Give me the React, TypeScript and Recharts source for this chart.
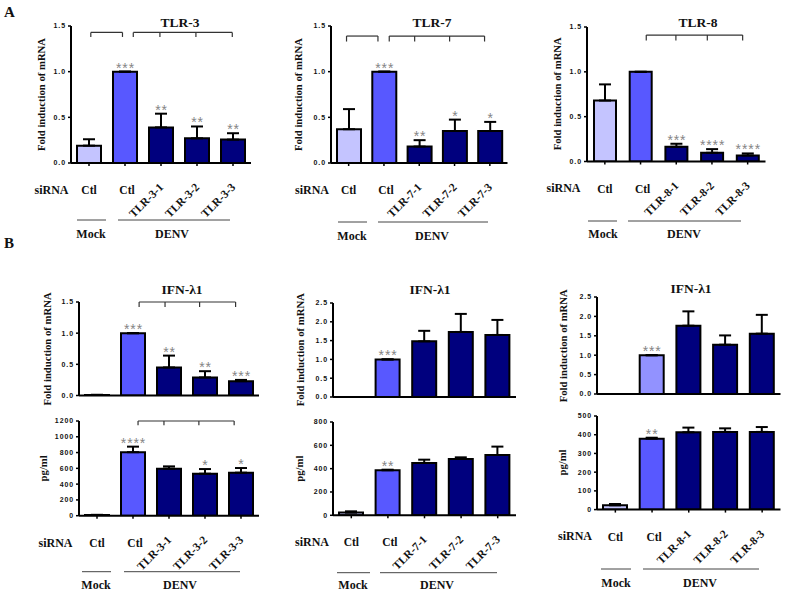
import React from "react";
import { BarChart, Bar, XAxis, YAxis, Cell, ErrorBar, LabelList, ReferenceLine } from "recharts";

const SERIF = '"Liberation Serif", "Times New Roman", serif';
const SANS = '"Liberation Sans", Arial, sans-serif';

const MOCK = "#c4c4ff";
const CTL = "#5858ff";
const CTL_PALE = "#9292ff";
const SI = "#00007e";
const STAR = "#858585";

// x categories
const tlr3Cats = ["Ctl", "Ctl", "TLR-3-1", "TLR-3-2", "TLR-3-3"];
const tlr7Cats = ["Ctl", "Ctl", "TLR-7-1", "TLR-7-2", "TLR-7-3"];
const tlr8Cats = ["Ctl", "Ctl", "TLR-8-1", "TLR-8-2", "TLR-8-3"];

// y ticks
const ticks15 = [0, 0.5, 1, 1.5];
const ticks25 = [0, 0.5, 1, 1.5, 2, 2.5];
const ticks1200 = [0, 200, 400, 600, 800, 1000, 1200];
const ticks800 = [0, 200, 400, 600, 800];
const ticks500 = [0, 100, 200, 300, 400, 500];

// A: TLR mRNA
const tlr3Values = [0.19, 1.0, 0.39, 0.27, 0.256];
const tlr3Errors = [0.07, 0, 0.15, 0.13, 0.07];
const tlr3Stars = ["", "***", "**", "**", "**"];

const tlr7Values = [0.37, 1.0, 0.18, 0.35, 0.35];
const tlr7Errors = [0.22, 0, 0.07, 0.125, 0.1];
const tlr7Stars = ["", "***", "**", "*", "*"];

const tlr8Values = [0.68, 1.0, 0.164, 0.097, 0.067];
const tlr8Errors = [0.18, 0, 0.034, 0.041, 0.023];
const tlr8Stars = ["", "", "***", "****", "****"];

// B: IFN-λ1 mRNA and protein
const ifn3FoldValues = [0.01, 1.0, 0.45, 0.29, 0.23];
const ifn3FoldErrors = [0, 0, 0.19, 0.1, 0.02];
const ifn3FoldStars = ["", "***", "**", "**", "***"];
const ifn3PgValues = [10, 805, 596, 532, 545];
const ifn3PgErrors = [0, 70, 29, 59, 59];
const ifn3PgStars = ["", "****", "", "*", "*"];

const ifn7FoldValues = [0, 1.0, 1.48, 1.73, 1.65];
const ifn7FoldErrors = [0, 0, 0.28, 0.48, 0.4];
const ifn7FoldStars = ["", "***", "", "", ""];
const ifn7PgValues = [23, 386, 449, 483, 517];
const ifn7PgErrors = [11, 5, 28, 14, 72];
const ifn7PgStars = ["", "**", "", "", ""];

const ifn8FoldValues = [0, 1.0, 1.76, 1.27, 1.555];
const ifn8FoldErrors = [0, 0, 0.37, 0.24, 0.485];
const ifn8FoldStars = ["", "***", "", "", ""];
const ifn8PgValues = [23, 379, 413, 415, 415];
const ifn8PgErrors = [7, 5, 25, 19, 26];
const ifn8PgStars = ["", "**", "", "", ""];

type Bracket = { from: number; to: number; mids: number[]; y: number; drop: number };

type ChartCfg = {
  left: number; right: number; top: number; bottom: number;
  domain: [number, number]; ticks: number[]; digits: number;
  values: number[]; errors: number[]; stars: string[];
  cats?: string[]; ctlColor?: string; barSize: number;
  brackets?: Bracket[]; yLabel: string; yLabelX: number;
};

const FOLD = "Fold induction of mRNA";

const charts: ChartCfg[] = [
  {
    left: 71, right: 251, top: 26, bottom: 163, domain: [0, 1.5], ticks: ticks15, digits: 1,
    values: tlr3Values, errors: tlr3Errors, stars: tlr3Stars, cats: tlr3Cats, barSize: 24,
    brackets: [
      { from: 0.05, to: 0.93, mids: [], y: 1.43, drop: 0.05 },
      { from: 1.23, to: 3.98, mids: [1.97, 2.97], y: 1.43, drop: 0.05 },
    ],
    yLabel: FOLD, yLabelX: 41,
  },
  {
    left: 330.5, right: 507, top: 26, bottom: 163, domain: [0, 1.5], ticks: ticks15, digits: 1,
    values: tlr7Values, errors: tlr7Errors, stars: tlr7Stars, cats: tlr7Cats, barSize: 24,
    brackets: [
      { from: -0.06, to: 0.83, mids: [], y: 1.39, drop: 0.06 },
      { from: 1.15, to: 3.85, mids: [1.87, 2.86], y: 1.39, drop: 0.06 },
    ],
    yLabel: FOLD, yLabelX: 298,
  },
  {
    left: 586.5, right: 765, top: 26.5, bottom: 161, domain: [0, 1.5], ticks: ticks15, digits: 1,
    values: tlr8Values, errors: tlr8Errors, stars: tlr8Stars, cats: tlr8Cats, barSize: 22,
    brackets: [{ from: 1.16, to: 3.86, mids: [1.99, 2.87], y: 1.41, drop: 0.06 }],
    yLabel: FOLD, yLabelX: 557,
  },
  {
    left: 79.3, right: 259.3, top: 302.2, bottom: 395.7, domain: [0, 1.5], ticks: ticks15, digits: 1,
    values: ifn3FoldValues, errors: ifn3FoldErrors, stars: ifn3FoldStars, barSize: 24,
    brackets: [{ from: 1.17, to: 3.85, mids: [1.89, 2.85], y: 1.5, drop: 0.08 }],
    yLabel: FOLD, yLabelX: 47,
  },
  {
    left: 79.3, right: 259.3, top: 421, bottom: 515.7, domain: [0, 1200], ticks: ticks1200, digits: 0,
    values: ifn3PgValues, errors: ifn3PgErrors, stars: ifn3PgStars, cats: tlr3Cats, barSize: 24,
    brackets: [{ from: 1.14, to: 3.81, mids: [1.86, 2.83], y: 1200, drop: 55 }],
    yLabel: "pg/ml", yLabelX: 43,
  },
  {
    left: 332.5, right: 515.5, top: 302.7, bottom: 396.7, domain: [0, 2.5], ticks: ticks25, digits: 1,
    values: ifn7FoldValues, errors: ifn7FoldErrors, stars: ifn7FoldStars, barSize: 24,
    yLabel: FOLD, yLabelX: 300,
  },
  {
    left: 332.5, right: 515.5, top: 422, bottom: 515.3, domain: [0, 800], ticks: ticks800, digits: 0,
    values: ifn7PgValues, errors: ifn7PgErrors, stars: ifn7PgStars, cats: tlr7Cats, barSize: 24,
    yLabel: "pg/ml", yLabelX: 299,
  },
  {
    left: 596.5, right: 780, top: 297.3, bottom: 394.3, domain: [0, 2.5], ticks: ticks25, digits: 1,
    values: ifn8FoldValues, errors: ifn8FoldErrors, stars: ifn8FoldStars, barSize: 24, ctlColor: CTL_PALE,
    yLabel: FOLD, yLabelX: 563,
  },
  {
    left: 596.5, right: 780, top: 415.7, bottom: 509.3, domain: [0, 500], ticks: ticks500, digits: 0,
    values: ifn8PgValues, errors: ifn8PgErrors, stars: ifn8PgStars, cats: tlr8Cats, barSize: 24,
    yLabel: "pg/ml", yLabelX: 562,
  },
];

// group annotations under the labelled charts
const groups = [
  { chart: 0, siX: 51.5, lineY: 220, mock: [77, 106], denv: [118, 230], mockX: 91, denvX: 172, textY: 237.5 },
  { chart: 1, siX: 312, lineY: 222, mock: [338, 367], denv: [378, 488], mockX: 352, denvX: 432, textY: 239.5 },
  { chart: 2, siX: 563.5, lineY: 221, mock: [588, 617], denv: [628, 741], mockX: 603, denvX: 684, textY: 237.5 },
  { chart: 4, siX: 55.5, lineY: 571.7, mock: [82, 111], denv: [124, 240], mockX: 96, denvX: 180, textY: 589 },
  { chart: 6, siX: 312, lineY: 572.7, mock: [337, 370], denv: [380, 497], mockX: 353, denvX: 437, textY: 589 },
  { chart: 8, siX: 575, lineY: 569, mock: [601, 631], denv: [643, 759], mockX: 616, denvX: 700, textY: 587 },
];

const titles = [
  { text: "TLR-3", x: 180, y: 26.5 },
  { text: "TLR-7", x: 432, y: 26.5 },
  { text: "TLR-8", x: 698, y: 27 },
  { text: "IFN-λ1", x: 182, y: 293.5 },
  { text: "IFN-λ1", x: 430, y: 293.5 },
  { text: "IFN-λ1", x: 691, y: 293 },
];

const LABEL_DY = 31;

function CatTick(props: any) {
  const { x, payload, cats, axisY } = props;
  const label = cats[payload.value];
  const by = axisY + LABEL_DY;
  const common = { fontFamily: SERIF, fontWeight: 700, fontSize: 11.5, fill: "#111" };
  if (label === "Ctl") {
    return <text x={x + (payload.value === 1 ? 2 : 0)} y={by} textAnchor="middle" {...common}>{label}</text>;
  }
  const ax = x + 3;
  const ay = by - 6;
  return (
    <text x={ax} y={ay} textAnchor="end" transform={`rotate(-45 ${ax} ${ay})`} {...common}>
      {label}
    </text>
  );
}

function MiniBars({ c }: { c: ChartCfg }) {
  const YW = 44, MT = 14, MR = 6;
  const xh = c.cats ? 64 : 8;
  const width = c.right - c.left + YW + MR;
  const height = c.bottom - c.top + MT + xh;
  const data = c.values.map((v, i) => ({ pos: i, value: v, err: [0, c.errors[i]] }));
  const fills = [MOCK, c.ctlColor ?? CTL, SI, SI, SI];
  const axisY = MT + (c.bottom - c.top);

  const starLabel = (p: any) => {
    const i = Number(p.value);
    const s = c.stars[i];
    if (!s) return null;
    const vb = p.viewBox ?? p;
    const h = Math.abs(vb.height);
    const yTop = Math.min(vb.y, vb.y + vb.height);
    const per = c.values[i] ? h / c.values[i] : 0;
    const top = yTop - c.errors[i] * per;
    return (
      <text x={vb.x + vb.width / 2 + 0.5} y={top + 1} textAnchor="middle" fontSize={14} letterSpacing={0.9}
        fontFamily={SANS} fill={STAR}>
        {s}
      </text>
    );
  };

  const lines: React.ReactNode[] = [];
  (c.brackets ?? []).forEach((b, bi) => {
    lines.push(
      <ReferenceLine key={`h${bi}`} segment={[{ x: b.from, y: b.y }, { x: b.to, y: b.y }]}
        stroke="#333" strokeWidth={1.2} ifOverflow="visible" />
    );
    [b.from, ...b.mids, b.to].forEach((x, k) => {
      lines.push(
        <ReferenceLine key={`v${bi}-${k}`} segment={[{ x, y: b.y }, { x, y: b.y - b.drop }]}
          stroke="#333" strokeWidth={1.2} ifOverflow="visible" />
      );
    });
  });

  return (
    <div style={{ position: "absolute", left: c.left - YW, top: c.top - MT }}>
      <BarChart width={width} height={height} data={data} margin={{ top: MT, right: MR, bottom: 0, left: 0 }}>
        <XAxis dataKey="pos" type="number" domain={[-0.5, 4.5]} ticks={[0, 1, 2, 3, 4]} allowDataOverflow
          height={xh} interval={0} axisLine={{ stroke: "#000", strokeWidth: 2 }}
          tickLine={{ stroke: "#000", strokeWidth: 1.5 }} tickSize={3} tickMargin={2}
          tick={c.cats ? (p: any) => <CatTick {...p} cats={c.cats} axisY={axisY} /> : false} />
        <YAxis type="number" domain={c.domain} ticks={c.ticks} allowDataOverflow width={YW} interval={0}
          axisLine={{ stroke: "#000", strokeWidth: 2 }} tickLine={{ stroke: "#000", strokeWidth: 1.5 }}
          tickSize={3} tickMargin={2} tickFormatter={(v: number) => v.toFixed(c.digits)}
          tick={{ fontSize: 7, fontWeight: 700, fill: "#111", fontFamily: SANS, letterSpacing: 0.9 }} />
        <Bar dataKey="value" barSize={c.barSize} stroke="#000" strokeWidth={2} isAnimationActive={false}>
          {data.map((d, i) => (
            <Cell key={i} fill={fills[i]} />
          ))}
          <ErrorBar dataKey="err" width={6} stroke="#000" strokeWidth={2} direction="y" isAnimationActive={false} />
          <LabelList dataKey="pos" content={starLabel} />
        </Bar>
        {lines}
      </BarChart>
    </div>
  );
}

export default function App() {
  return (
    <div style={{ position: "absolute", left: 0, top: 0, width: 787, height: 593, background: "#fff", overflow: "hidden" }}>
      {charts.map((c, i) => (
        <MiniBars key={i} c={c} />
      ))}
      <svg width={787} height={593} style={{ position: "absolute", left: 0, top: 0, pointerEvents: "none" }}>
        <g fontFamily={SERIF} fontWeight={700} fill="#111">
          <text x={4} y={17} fontSize={15}>A</text>
          <text x={4} y={248} fontSize={15}>B</text>
          {titles.map((t, i) => (
            <text key={i} x={t.x} y={t.y} fontSize={13.5} textAnchor="middle">{t.text}</text>
          ))}
          {charts.map((c, i) => (
            <text key={`yl${i}`} transform={`translate(${c.yLabelX},${(c.top + c.bottom) / 2}) rotate(-90)`}
              textAnchor="middle" dy="0.35em" fontSize={10.7}>
              {c.yLabel}
            </text>
          ))}
          {groups.map((g, i) => {
            const c = charts[g.chart];
            return (
              <g key={`g${i}`}>
                <text x={g.siX} y={c.bottom + LABEL_DY} textAnchor="middle" fontSize={12}>siRNA</text>
                <line x1={g.mock[0]} x2={g.mock[1]} y1={g.lineY} y2={g.lineY} stroke="#444" strokeWidth={1} />
                <line x1={g.denv[0]} x2={g.denv[1]} y1={g.lineY} y2={g.lineY} stroke="#444" strokeWidth={1} />
                <text x={g.mockX} y={g.textY} textAnchor="middle" fontSize={12}>Mock</text>
                <text x={g.denvX} y={g.textY} textAnchor="middle" fontSize={12}>DENV</text>
              </g>
            );
          })}
        </g>
      </svg>
    </div>
  );
}
